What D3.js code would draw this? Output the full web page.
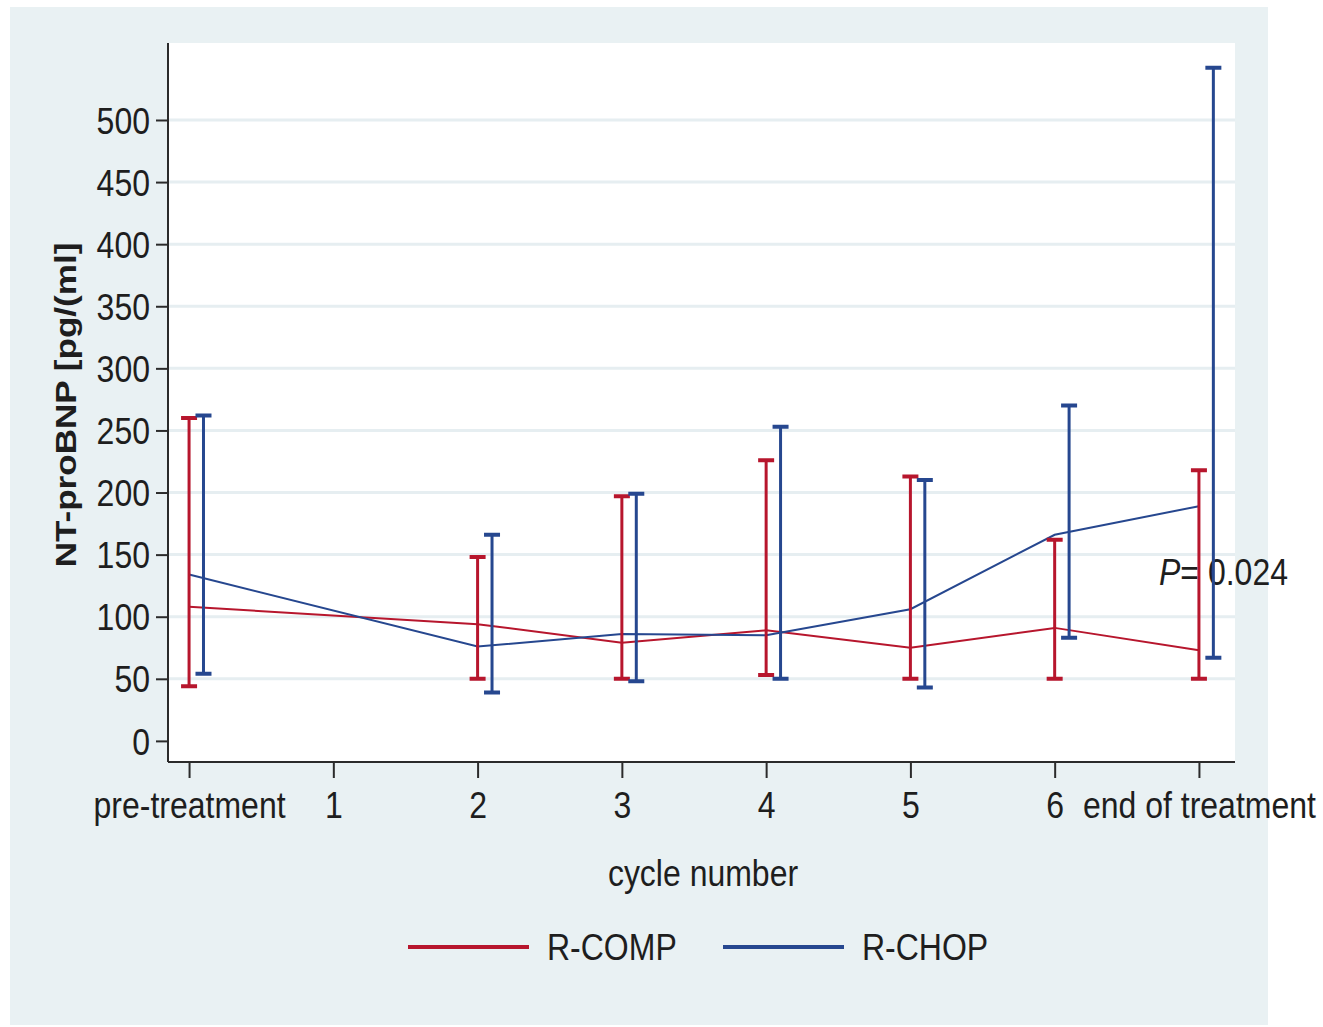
<!DOCTYPE html>
<html>
<head>
<meta charset="utf-8">
<script src="https://cdn.jsdelivr.net/npm/d3@7"></script>
<style>
  body { margin: 0; background: #fff; }
  text { font-family: "Liberation Sans", Arial, sans-serif; fill: #1e1e1e; }
</style>
</head>
<body>
<svg id="chart"></svg>
<script>
const width = 1323, height = 1027;
const plot = { left: 168, right: 1235, top: 43, bottom: 762 };
const textStretch = 1.17; // the original lettering is drawn a bit taller than wide

const cycles = ["pre-treatment", "1", "2", "3", "4", "5", "6", "end of treatment"];
const rcompMean = [108, null, 94, 79, 89, 75, 91, 73];
const rcompLow  = [44, null, 50, 50, 53, 50, 50, 50];
const rcompHigh = [260, null, 148, 197, 226, 213, 162, 218];
const rchopMean = [134, null, 76, 86, 85, 106, 166, 189];
const rchopLow  = [54, null, 39, 48, 50, 43, 83, 67];
const rchopHigh = [262, null, 166, 199, 253, 210, 270, 542];
const yTicks = [0, 50, 100, 150, 200, 250, 300, 350, 400, 450, 500];

const series = [
    { name: "R-COMP", color: "#b7162d", mean: rcompMean, low: rcompLow, high: rcompHigh, dodge: 0 },
    { name: "R-CHOP", color: "#26478f", mean: rchopMean, low: rchopLow, high: rchopHigh, dodge: 0.1 }
];

const svg = d3.select("#chart")
    .attr("width", width)
    .attr("height", height)
    .attr("viewBox", [0, 0, width, height]);

// Outer tinted panel + white plot region
svg.append("rect")
    .attr("x", 10).attr("y", 7)
    .attr("width", 1258).attr("height", 1018)
    .attr("fill", "#e9f1f3");

svg.append("rect")
    .attr("x", plot.left).attr("y", plot.top)
    .attr("width", plot.right - plot.left).attr("height", plot.bottom - plot.top)
    .attr("fill", "#fff");

const xScale = d3.scaleLinear().domain([-0.146, 7.25]).range([plot.left, plot.right]);
const yScale = d3.scaleLinear().domain([-17, 562]).range([plot.bottom, plot.top]);

// Gridlines (none at 0)
svg.append("g")
    .attr("class", "grid")
    .selectAll("line")
    .data(yTicks.filter(d => d > 0))
    .enter()
    .append("line")
    .attr("x1", plot.left)
    .attr("x2", plot.right)
    .attr("y1", d => yScale(d))
    .attr("y2", d => yScale(d))
    .attr("stroke", "#e6eef1")
    .attr("stroke-width", 3);

// Axes
const yAxis = svg.append("g")
    .attr("transform", `translate(${plot.left},0)`)
    .call(d3.axisLeft(yScale).tickValues(yTicks).tickSize(12).tickSizeOuter(0));

const xAxis = svg.append("g")
    .attr("transform", `translate(0,${plot.bottom})`)
    .call(d3.axisBottom(xScale).tickValues(d3.range(cycles.length))
        .tickFormat(i => cycles[i]).tickSize(16).tickSizeOuter(0));

[yAxis, xAxis].forEach(ax => {
    ax.select(".domain").attr("stroke", "#2b2b2b").attr("stroke-width", 2);
    ax.selectAll(".tick line").attr("stroke", "#2b2b2b").attr("stroke-width", 2);
    ax.selectAll(".tick text")
        .attr("font-size", 32)
        .attr("font-family", null)
        .attr("fill", "#1e1e1e")
        .attr("x", 0).attr("y", 0).attr("dy", "0.35em");
});
// the axis line only spans the plot region
yAxis.select(".domain").attr("d", `M0,${plot.top}V${plot.bottom}`);
xAxis.select(".domain").attr("d", `M${plot.left},0H${plot.right}`);

yAxis.selectAll(".tick text")
    .attr("transform", `translate(-18,0) scale(1,${textStretch})`);
xAxis.selectAll(".tick text")
    .attr("transform", `translate(0,43) scale(1,${textStretch})`);

// Axis titles
svg.append("text")
    .attr("transform", `translate(65,405) rotate(-90) scale(${textStretch},1)`)
    .attr("text-anchor", "middle")
    .attr("dy", "0.35em")
    .attr("font-size", 30)
    .attr("font-weight", "bold")
    .text("NT-proBNP [pg/(ml]");

svg.append("text")
    .attr("transform", `translate(703,873) scale(1,${textStretch})`)
    .attr("text-anchor", "middle")
    .attr("dy", "0.35em")
    .attr("font-size", 32)
    .text("cycle number");

// P value annotation
const pText = svg.append("text")
    .attr("transform", `translate(1159,572) scale(1,${textStretch})`)
    .attr("dy", "0.35em")
    .attr("font-size", 32);
pText.append("tspan").attr("font-style", "italic").text("P");
pText.append("tspan").text("= 0.024");

// Mean lines
const lineGenerator = d3.line()
    .x(d => xScale(d.i))
    .y(d => yScale(d.v));

series.forEach(s => {
    const pts = s.mean.map((v, i) => ({ i, v })).filter(d => d.v != null);
    svg.append("path")
        .attr("d", lineGenerator(pts))
        .attr("fill", "none")
        .attr("stroke", s.color)
        .attr("stroke-width", 2);
});

// Error bars
const capHalf = 8;
series.forEach(s => {
    const bars = s.low.map((lo, i) => ({ i, lo, hi: s.high[i] })).filter(d => d.lo != null);
    const g = svg.append("g")
        .attr("stroke", s.color)
        .attr("fill", "none");
    g.selectAll("path.bar")
        .data(bars)
        .enter()
        .append("path")
        .attr("class", "bar")
        .attr("stroke-width", 3)
        .attr("d", d => `M${xScale(d.i + s.dodge)},${yScale(d.lo)}V${yScale(d.hi)}`);
    g.selectAll("path.cap")
        .data(bars)
        .enter()
        .append("path")
        .attr("class", "cap")
        .attr("stroke-width", 4)
        .attr("d", d => {
            const x = xScale(d.i + s.dodge), y0 = yScale(d.lo), y1 = yScale(d.hi);
            return `M${x - capHalf},${y1}H${x + capHalf}M${x - capHalf},${y0}H${x + capHalf}`;
        });
});

// Legend
const legendItems = [
    { s: series[0], x: 408 },
    { s: series[1], x: 723 }
];
legendItems.forEach(item => {
    svg.append("line")
        .attr("x1", item.x).attr("x2", item.x + 121)
        .attr("y1", 947).attr("y2", 947)
        .attr("stroke", item.s.color)
        .attr("stroke-width", 4);
    svg.append("text")
        .attr("transform", `translate(${item.x + 139},947) scale(1,${textStretch})`)
        .attr("dy", "0.35em")
        .attr("font-size", 32)
        .text(item.s.name);
});
</script>
</body>
</html>
